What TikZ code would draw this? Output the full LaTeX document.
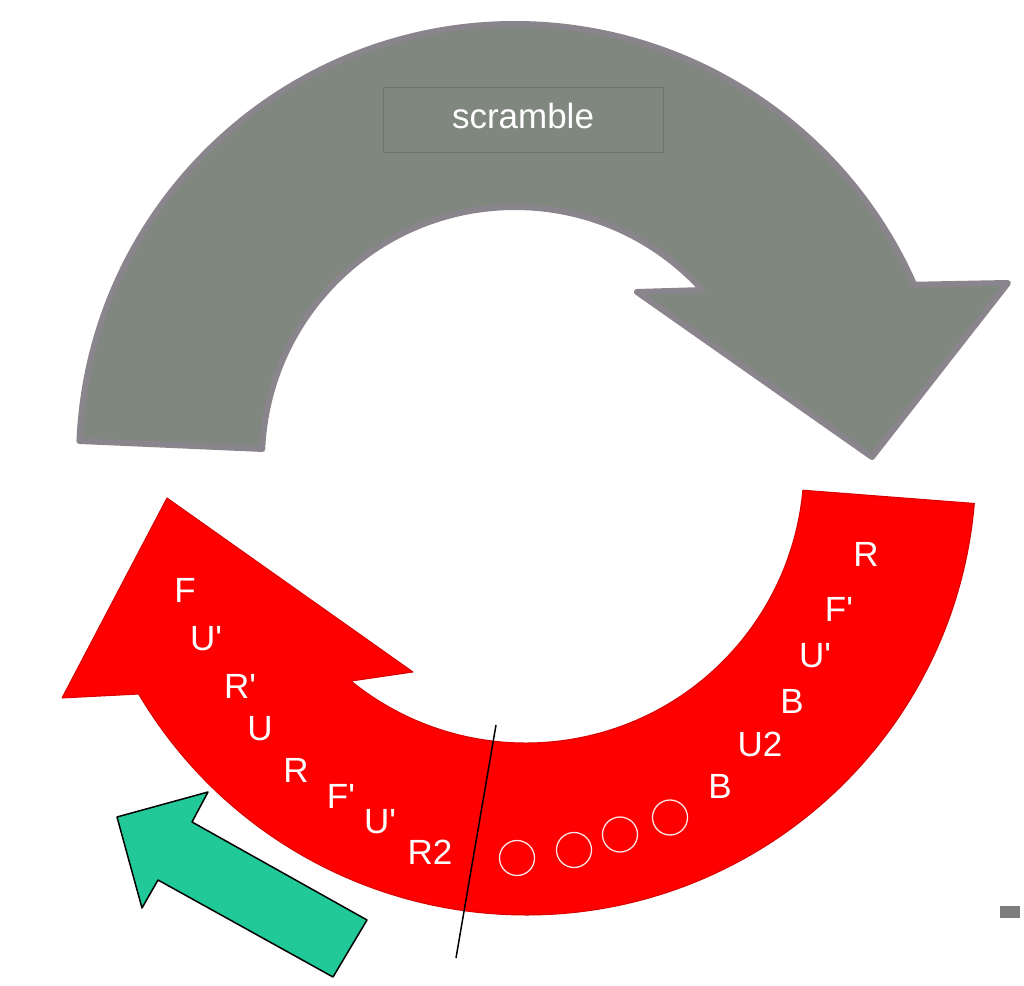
\documentclass[tikz,border=0pt]{standalone}
\usepackage{fontspec}
\setmainfont{Liberation Sans}
\usepackage{xcolor}
\usepackage{tikz}
\usetikzlibrary{calc}
\definecolor{CubeGray}{HTML}{7F877F}
\definecolor{CubeGrayEdge}{HTML}{8A858C}
\definecolor{CubeBoxLine}{HTML}{6E756F}
\definecolor{CubeRed}{HTML}{FE0000}
\definecolor{CubeGreen}{HTML}{20C997}
\definecolor{CubeDash}{HTML}{7D7D7D}

\begin{document}
\begin{tikzpicture}[
  x=1pt, y=1pt,
  grayband/.style={fill=CubeGray, draw=CubeGrayEdge, line width=6pt, line join=round},
  redband/.style={fill=CubeRed, draw=CubeRed!85!black, line width=1pt, line join=round},
  hint/.style={fill=CubeGreen, draw=black, line width=1.5pt, line join=round},
  move/.style={text=white, inner sep=0pt, font=\fontsize{35}{40}\selectfont},
  dot/.style={circle, draw=white!90!CubeRed, line width=1.3pt, minimum size=35pt, inner sep=0pt},
  labelbox/.style={draw=CubeBoxLine, line width=1pt, minimum width=280pt, minimum height=65pt, text=white, text depth=10pt, font=\fontsize{35}{40}\selectfont}
]
  \useasboundingbox (0,0) rectangle (1024,985);
  \coordinate (gc) at (515,525);
  \coordinate (rc) at (526,520);

  % scramble arc
  \filldraw[grayband] ($(gc)+(177.5:436)$) arc[start angle=177.5, end angle=23.7, radius=436]
    -- (1008,702) -- (872,528) -- (637,693)
    -- ($(gc)+(42.2:253)$) arc[start angle=42.2, end angle=177.5, radius=253] -- cycle;
  \node[labelbox] (scramble) at (523,864.5) {scramble};

  % solve arc
  \filldraw[redband] ($(rc)+(-4.9:450)$) arc[start angle=-4.9, end angle=-149.4, radius=450]
    -- (62,287) -- (167,487) -- (413,313)
    -- ($(rc)+(-129:278)$) arc[start angle=-129, end angle=-5.2, radius=278] -- cycle;

  \node[move] (l1) at (185,395) {F};
  \node[move] (l2) at (206,346) {U\textquotesingle};
  \node[move] (l3) at (240,299) {R\textquotesingle};
  \node[move] (l4) at (260,256) {U};
  \node[move] (l5) at (296,215) {R};
  \node[move] (l6) at (341,189) {F\textquotesingle};
  \node[move] (l7) at (380,163) {U\textquotesingle};
  \node[move] (l8) at (430,133) {R2};

  \node[move] (r1) at (866,431) {R};
  \node[move] (r2) at (839,376) {F\textquotesingle};
  \node[move] (r3) at (815,329) {U\textquotesingle};
  \node[move] (r4) at (792,284) {B};
  \node[move] (r5) at (760,241) {U2};
  \node[move] (r6) at (720,199) {B};

  \node[dot] (dot1) at (517,127) {};
  \node[dot] (dot2) at (574,135) {};
  \node[dot] (dot3) at (620,150.5) {};
  \node[dot] (dot4) at (670,167.5) {};

  % cut line
  \coordinate (cutTop) at (496,260);
  \coordinate (cutBot) at (456,27);
  \draw[line width=1.5pt] (cutTop) -- (cutBot);

  % hint arrow
  \filldraw[hint] (117,168) -- (208,193) -- (192,163) -- (367,65)
    -- (333,8) -- (158,105) -- (142,77) -- cycle;

  \fill[CubeDash] (1000,67) rectangle (1020,79);
\end{tikzpicture}
\end{document}
